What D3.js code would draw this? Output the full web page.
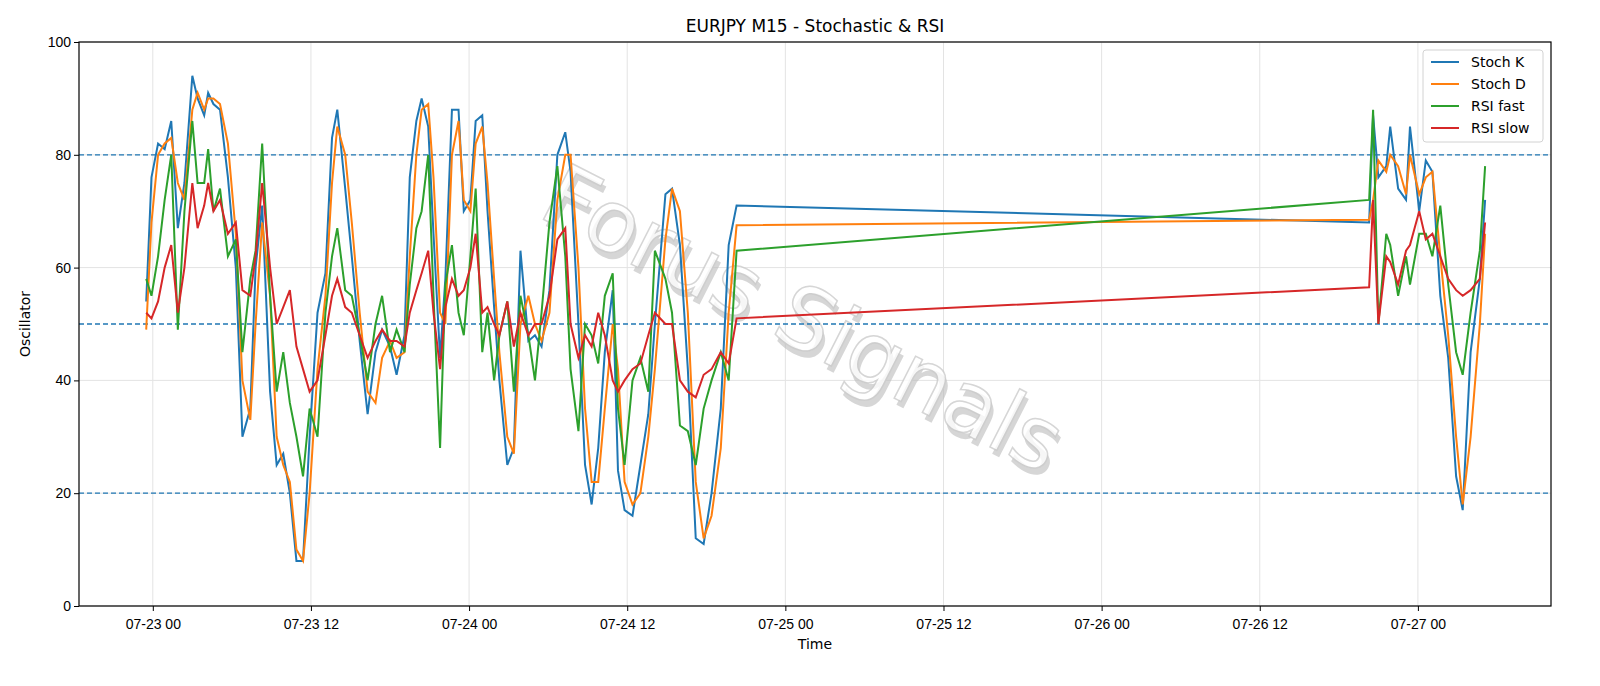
<!DOCTYPE html>
<html><head><meta charset="utf-8">
<script src="https://cdn.jsdelivr.net/npm/d3@7"></script>
<style>html,body{margin:0;padding:0;overflow:hidden;background:#fff}svg{display:block;font-family:"DejaVu Sans",sans-serif}</style>
</head><body><svg id="c" width="1600" height="686"></svg>
<script>
// hours offset from 2024-07-23 00:00
const hours=[-0.5,-0.1,0.4,0.9,1.4,1.9,2.4,3.0,3.4,3.9,4.2,4.6,5.1,5.7,6.3,6.8,7.4,7.8,8.3,8.9,9.4,9.9,10.4,10.9,11.4,11.9,12.5,13.1,13.6,14.0,14.6,15.1,15.7,16.3,16.9,17.4,18.0,18.5,19.1,19.5,20.0,20.4,20.9,21.3,21.8,22.2,22.7,23.2,23.6,24.1,24.5,25.0,25.4,25.9,26.3,26.9,27.4,27.9,28.5,29.0,29.5,30.1,30.7,31.3,31.7,32.3,32.8,33.3,33.8,34.3,34.9,35.3,35.8,36.4,37.0,37.6,38.1,38.9,39.4,40.0,40.6,41.2,41.8,42.4,43.1,43.7,44.3,
92.3,92.6,93.0,93.6,93.9,94.5,95.1,95.4,96.1,96.6,97.1,97.7,98.3,98.9,99.4,100.0,100.7,101.1];
const stochK=[54,76,82,81,86,67,75,94,90,87,91,89,88,76,60,30,35,60,71,38,25,27,20,8,8,30,52,59,83,88,74,62,47,34,45,49,46,41,48,76,86,90,85,66,44,58,88,88,70,72,86,87,70,53,40,25,28,63,47,48,46,56,80,84,77,50,25,18,28,45,56,24,17,16,25,34,50,73,74,64,42,12,11,20,35,64,71,
68,87,76,78,85,74,72,85,70,79,77,55,44,23,17,45,58,72];
const stochD=[49,68,80,82,83,75,72,88,91,88,90,90,89,82,66,40,33,50,68,55,30,25,22,10,8,20,42,55,75,85,80,68,52,38,36,44,47,44,45,62,80,88,89,76,52,50,80,86,72,70,82,85,75,58,45,30,27,50,55,50,47,52,72,80,80,60,35,22,22,35,50,42,22,18,20,30,42,65,74,70,52,22,12,16,28,52,67.5,
68.5,72,79,77,80,78,73,80,73,76,77,62,48,30,18,30,50,66];
const rsiFast=[58,55,62,72,80,49,70,86,75,75,81,70,74,62,65,45,58,63,82,55,38,45,36,30,23,35,30,52,62,67,56,55,48,40,50,55,45,49,45,57,67,70,80,55,28,57,64,52,48,62,74,45,52,40,48,54,38,55,48,40,52,68,78,62,42,31,50,48,43,55,59,35,25,40,44,38,63,58,52,32,31,25,35,40,45,40,63,
72,88,50,66,64,55,62,57,66,66,62,71,57,45,41,52,63,78];
const rsiSlow=[52,51,54,60,64,52,60,75,67,71,75,70,72,66,68,56,55,62,75,60,50,53,56,46,42,38,40,48,55,58,53,52,48,44,47,49,47,47,46,52,56,59,63,52,42,53,58,55,56,60,66,52,53,50,48,54,46,52,48,50,50,55,65,67,50,44,48,46,52,48,40,38,40,42,43,48,52,50,50,40,38,37,41,42,45,43,51,
56.5,72,50,62,61,57,63,64,70,65,66,62,58,56,55,56,58,68];
const seriesNames=["Stoch K","Stoch D","RSI fast","RSI slow"];
const colors=["#1f77b4","#ff7f0e","#2ca02c","#d62728"];
const yTicks=[0,20,40,60,80,100];
const levels=[20,50,80];

const svg=d3.select("#c");
const L=79,R=1551,T=42,B=606;
const base=Date.UTC(2024,6,23);
const toDate=h=>new Date(base+h*3600e3);
const x=d3.scaleUtc().domain([toDate(-5.6),toDate(106.1)]).range([L,R]);
const y=d3.scaleLinear().domain([0,100]).range([B,T]);
const xt=d3.range(0,108,12).map(toDate);
svg.append("g").selectAll("line").data(xt).join("line").attr("x1",d=>x(d)).attr("x2",d=>x(d)).attr("y1",T).attr("y2",B).attr("stroke","#e3e3e3");
svg.append("g").selectAll("line").data(yTicks).join("line").attr("x1",L).attr("x2",R).attr("y1",d=>y(d)).attr("y2",d=>y(d)).attr("stroke","#e3e3e3");
const wm=svg.append("g").attr("transform","translate(790,345) rotate(27)");
wm.append("text").attr("x",5).attr("y",5).attr("text-anchor","middle").attr("font-size",86).attr("fill","#bbb").attr("opacity",0.6).text("Forus Signals");
wm.append("text").attr("text-anchor","middle").attr("font-size",86).attr("fill","#fff").attr("stroke","#ccc").attr("stroke-width",1.5).attr("opacity",0.8).text("Forus Signals");
svg.append("g").selectAll("line").data(levels).join("line").attr("x1",L).attr("x2",R).attr("y1",d=>y(d)).attr("y2",d=>y(d)).attr("stroke","#1f77b4").attr("stroke-width",1.3).attr("stroke-dasharray","5,3");
const data=[stochK,stochD,rsiFast,rsiSlow];
const line=d3.line().x((d,i)=>x(toDate(hours[i]))).y(d=>y(d));
data.forEach((s,k)=>svg.append("path").attr("d",line(s)).attr("fill","none").attr("stroke",colors[k]).attr("stroke-width",2));
const ax=svg.append("g").attr("transform",`translate(0,${B})`).call(d3.axisBottom(x).tickValues(xt).tickFormat(d3.utcFormat("%m-%d %H")).tickSizeOuter(0).tickSize(5));
const ay=svg.append("g").attr("transform",`translate(${L},0)`).call(d3.axisLeft(y).tickValues(yTicks).tickSizeOuter(0).tickSize(5));
[ax,ay].forEach(a=>{a.selectAll("text").attr("font-size",14).attr("fill","#000");a.select(".domain").remove();});
ax.selectAll("text").attr("dy","1.1em");
svg.append("rect").attr("x",L).attr("y",T).attr("width",R-L).attr("height",B-T).attr("fill","none").attr("stroke","#000").attr("stroke-width",1.2);
svg.append("text").attr("x",(L+R)/2).attr("y",32).attr("text-anchor","middle").attr("font-size",17).text("EURJPY M15 - Stochastic & RSI");
svg.append("text").attr("x",(L+R)/2).attr("y",649).attr("text-anchor","middle").attr("font-size",14).text("Time");
svg.append("text").attr("transform","translate(30,324) rotate(-90)").attr("text-anchor","middle").attr("font-size",14).text("Oscillator");
const lg=svg.append("g").attr("transform","translate(1423,50)");
lg.append("rect").attr("width",120).attr("height",92).attr("rx",3).attr("fill","#fff").attr("opacity",0.85).attr("stroke","#ccc");
seriesNames.forEach((n,i)=>{
  lg.append("line").attr("x1",8).attr("x2",36).attr("y1",12+i*22).attr("y2",12+i*22).attr("stroke",colors[i]).attr("stroke-width",2);
  lg.append("text").attr("x",48).attr("y",17+i*22).attr("font-size",14).text(n);
});
</script></body></html>
